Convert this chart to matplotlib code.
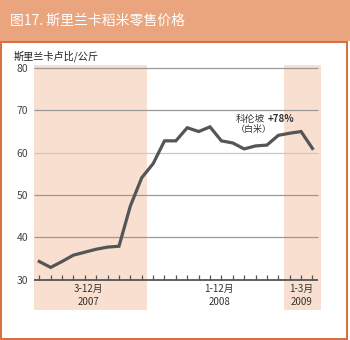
import matplotlib.pyplot as plt
from matplotlib.patches import Rectangle

plt.rcParams['font.family'] = ['Noto Sans CJK SC', 'DejaVu Sans']

# monthly retail price of rice, Colombo (white rice), Mar 2007 - Mar 2009
price = [34.3, 32.9, 34.3, 35.8, 36.5, 37.2, 37.7, 37.9, 47.4, 54.1,
         57.4, 62.8, 62.8, 65.9, 65.0, 66.1, 62.8, 62.3, 60.9, 61.6,
         61.8, 64.1, 64.6, 65.0, 61.0]
yticks = [30, 40, 50, 60, 70, 80]
period_labels = ['3-12月\n2007', '1-12月\n2008', '1-3月\n2009']
period_pos = [4.3, 15.8, 23.0]

header = '#EBA57E'
border = '#D9703F'
shade = '#F8DFD0'
line_c = '#555555'
text_c = '#444444'

fig = plt.figure(figsize=(3.5, 3.4), dpi=100)

# frame: header band and orange border
fig.patches.append(Rectangle((0, 1 - 41 / 340), 1, 41 / 340, transform=fig.transFigure,
                             facecolor=header, edgecolor='none', zorder=0))
fig.patches.append(Rectangle((0, 1 - 42.5 / 340), 348 / 350, 2 / 340, transform=fig.transFigure,
                             facecolor=border, edgecolor='none', zorder=1))
fig.patches.append(Rectangle((0, 0.5 / 340), 2.3 / 350, 298 / 340, transform=fig.transFigure,
                             facecolor=border, edgecolor='none', zorder=1))
fig.patches.append(Rectangle((346 / 350, 0.5 / 340), 2 / 350, 298 / 340, transform=fig.transFigure,
                             facecolor=border, edgecolor='none', zorder=1))
fig.patches.append(Rectangle((0, 0.5 / 340), 348 / 350, 1.8 / 340, transform=fig.transFigure,
                             facecolor=border, edgecolor='none', zorder=1))

fig.text(10 / 350, 1 - 21 / 340, '图17. 斯里兰卡稻米零售价格', color='white',
         fontsize=10, va='center', ha='left')
fig.text(14 / 350, 1 - 56 / 340, '斯里兰卡卢比/公斤', color='#222222',
         fontsize=7.3, va='center', ha='left')

ax = fig.add_axes([33.6 / 350, 30 / 340, 287.4 / 350, 245 / 340])
ax.set_facecolor('none')
ax.set_xlim(-0.5, 24.75)
ax.set_ylim(22.84, 80.72)
for s in ax.spines.values():
    s.set_visible(False)

ax.axvspan(-0.5, 9.5, color=shade, lw=0, zorder=0)
ax.axvspan(21.5, 24.75, color=shade, lw=0, zorder=0)

for v in yticks[1:]:
    ax.hlines(v, -0.5, 24.5, color='#C8C8C8' if v == 60 else '#999999', lw=0.9, zorder=1)
ax.hlines(30, -0.5, 24.5, color=line_c, lw=1.3, zorder=2)
x = list(range(len(price)))
ax.vlines(x, 30, 31.1, color=line_c, lw=0.9, zorder=2)

ax.plot(x, price, color=line_c, lw=2.3, solid_joinstyle='miter', zorder=3)

ax.set_xticks([])
ax.set_yticks(yticks)
ax.set_yticklabels([str(v) for v in yticks], color=text_c, fontsize=7.5)
ax.tick_params(axis='y', length=0, pad=4)

for p, lab in zip(period_pos, period_labels):
    ax.text(p, 28.9, lab, ha='center', va='top', fontsize=7, color='#333333',
            linespacing=1.35)

ax.text(19.84, 68.0, '科伦坡', ha='right', va='center', fontsize=7, color='#333333')
ax.text(20.05, 68.0, '+78%', ha='left', va='center', fontsize=7, color='#333333',
        fontweight='bold')
ax.text(18.8, 65.6, '（白米）', ha='center', va='center', fontsize=6.5, color='#333333')

fig.savefig('out.png', dpi=100)
